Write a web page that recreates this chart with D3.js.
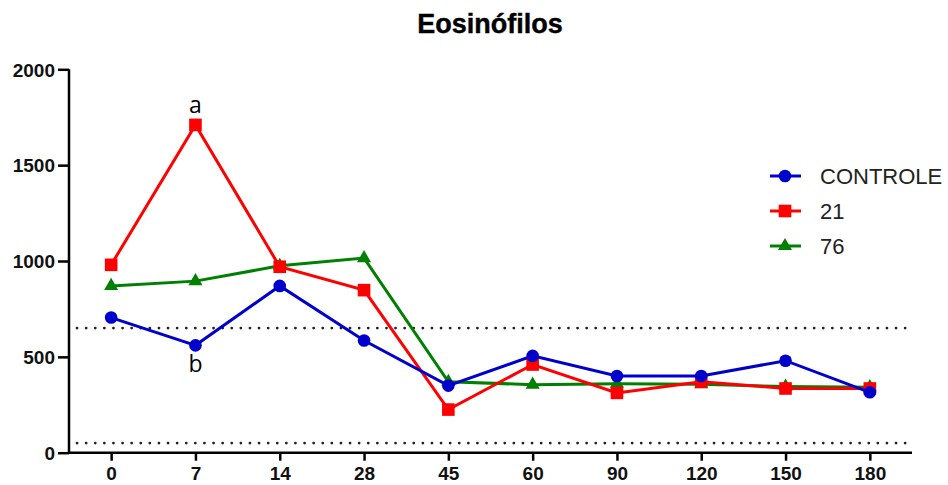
<!DOCTYPE html>
<html>
<head>
<meta charset="utf-8">
<script src="https://cdn.jsdelivr.net/npm/d3@7"></script>
<style>
  body { margin: 0; background: #fff; }
  svg { display: block; font-family: "Liberation Sans", Arial, sans-serif; }
</style>
</head>
<body>
<div id="chart"></div>
<script>
// Data
var days = ["0", "7", "14", "28", "45", "60", "90", "120", "150", "180"]
var controle = [705, 560, 870, 585, 350, 505, 400, 400, 480, 315]
var grupo21 = [980, 1710, 970, 848, 225, 460, 312, 370, 335, 335]
var grupo76 = [870, 895, 975, 1015, 370, 355, 360, 357, 345, 342]
var yTicks = [0, 500, 1000, 1500, 2000]
var refLines = [650, 50]

var width = 948
var height = 485
// plot area edges (avoid "top", it is a reserved window property)
var plotLeft = 69, plotRight = 912, plotTop = 69.3, plotBottom = 452.7

var series = [
  { name: "CONTROLE", values: controle, color: "#0000cc", shape: "circle" },
  { name: "21", values: grupo21, color: "#ff0000", shape: "square" },
  { name: "76", values: grupo76, color: "#008000", shape: "triangle" }
]

var svg = d3.select("#chart").append("svg")
  .attr("width", width)
  .attr("height", height)

var x = d3.scalePoint().domain(days).range([plotLeft, plotRight]).padding(0.5)
var y = d3.scaleLinear().domain([0, 2000]).range([plotBottom, plotTop])

// title
svg.append("text")
  .attr("x", 490).attr("y", 33)
  .attr("text-anchor", "middle")
  .attr("font-size", 27).attr("font-weight", "bold")
  .attr("stroke", "#000").attr("stroke-width", 0.4)
  .text("Eosinófilos")

// dotted reference lines
svg.selectAll(".ref").data(refLines).enter().append("line")
  .attr("x1", 77).attr("x2", 908)
  .attr("y1", d => y(d)).attr("y2", d => y(d))
  .attr("stroke", "#222").attr("stroke-width", 2.7)
  .attr("stroke-linecap", "round")
  .attr("stroke-dasharray", "0.1 9")

// axes
var yAxis = svg.append("g")
  .attr("transform", "translate(" + plotLeft + ",0)")
  .call(d3.axisLeft(y).tickValues(yTicks).tickSize(11).tickPadding(3).tickFormat(d3.format("d")))
var xAxis = svg.append("g")
  .attr("transform", "translate(0," + plotBottom + ")")
  .call(d3.axisBottom(x).tickSize(8).tickPadding(6))

xAxis.select(".domain").attr("d", "M" + plotLeft + ",0H" + plotRight)
yAxis.select(".domain").attr("d", "M0," + plotBottom + "V" + plotTop)
svg.selectAll(".domain, .tick line").attr("stroke", "#000").attr("stroke-width", 2.5)
svg.selectAll(".tick text").attr("font-size", 19).attr("font-weight", "bold")
  .attr("font-family", "Liberation Sans, Arial, sans-serif").attr("fill", "#111")
yAxis.selectAll(".tick text").attr("dy", "0.36em")

// marker drawing
function marker(g, shape, color) {
  if (shape === "circle") {
    g.append("circle").attr("r", 6.3).attr("fill", color)
  } else if (shape === "square") {
    g.append("rect").attr("x", -6.3).attr("y", -6.3).attr("width", 12.6).attr("height", 12.6).attr("fill", color)
  } else {
    g.append("path").attr("d", d3.symbol().type(d3.symbolTriangle).size(85)).attr("fill", color)
  }
}

var line = d3.line().x((d, i) => x(days[i])).y(d => y(d))

// draw green first, then red, then blue on top
var order = [series[2], series[1], series[0]]
order.forEach(function (s) {
  svg.append("path")
    .attr("d", line(s.values))
    .attr("fill", "none")
    .attr("stroke", s.color)
    .attr("stroke-width", 3)
  s.values.forEach(function (v, i) {
    var g = svg.append("g").attr("transform", "translate(" + x(days[i]) + "," + y(v) + ")")
    marker(g, s.shape, s.color)
  })
})

// significance letters
svg.append("text").attr("x", x("7")).attr("y", y(grupo21[1]) - 12)
  .attr("text-anchor", "middle").attr("font-size", 23)
  .attr("font-family", "Open Sans, sans-serif").text("a")
svg.append("text").attr("x", x("7")).attr("y", y(controle[1]) + 27)
  .attr("text-anchor", "middle").attr("font-size", 23)
  .attr("font-family", "Open Sans, sans-serif").text("b")

// legend
var legend = svg.selectAll(".legend").data(series).enter().append("g")
  .attr("transform", (d, i) => "translate(785," + (176 + i * 35) + ")")
legend.append("line").attr("x1", -15).attr("x2", 16)
  .attr("stroke", d => d.color).attr("stroke-width", 3)
legend.each(function (d) { marker(d3.select(this), d.shape, d.color) })
legend.append("text").attr("x", 35).attr("y", 8)
  .attr("font-size", 22).attr("fill", "#222")
  .text(d => d.name)
</script>
</body>
</html>
